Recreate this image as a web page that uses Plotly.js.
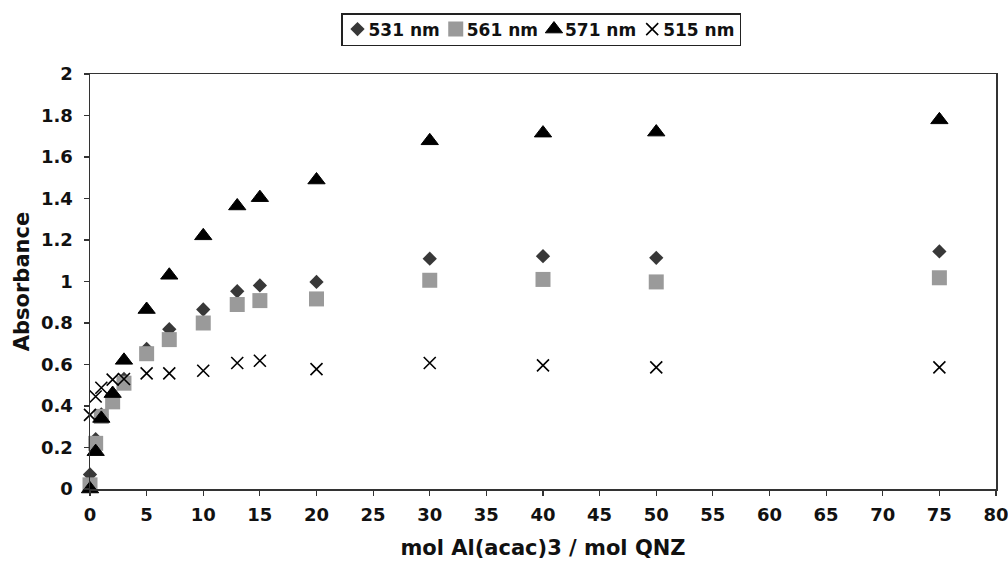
<!DOCTYPE html>
<html>
<head>
<meta charset="utf-8">
<script src="https://cdn.plot.ly/plotly-3.0.1.min.js"></script>
<style>
  html, body { margin: 0; padding: 0; background: #fff; }
  #chart { width: 1008px; height: 566px; }
</style>
</head>
<body>
<div id="chart"></div>
<script>
// Molar ratio of Al(acac)3 to QNZ
const ratio = [0, 0.5, 1, 2, 3, 5, 7, 10, 13, 15, 20, 30, 40, 50, 75];

// Absorbance at each monitored wavelength
const abs531 = [0.07, 0.24, 0.36, 0.44, 0.53, 0.675, 0.77, 0.865, 0.953, 0.981, 0.998, 1.11, 1.122, 1.114, 1.145];
const abs561 = [0.02, 0.22, 0.35, 0.42, 0.51, 0.652, 0.72, 0.80, 0.889, 0.908, 0.916, 1.006, 1.01, 0.998, 1.018];
const abs571 = [0.0, 0.18, 0.34, 0.46, 0.62, 0.865, 1.03, 1.22, 1.364, 1.404, 1.489, 1.678, 1.715, 1.72, 1.779];
const abs515 = [0.357, 0.446, 0.488, 0.527, 0.53, 0.557, 0.557, 0.57, 0.607, 0.618, 0.578, 0.607, 0.596, 0.586, 0.586];

const seriesNames = ['531 nm', '561 nm', '571 nm', '515 nm'];

const FONT = 'DejaVu Sans, Arial, sans-serif';

const traces = [
  {
    x: ratio, y: abs531, name: seriesNames[0], type: 'scatter', mode: 'markers',
    cliponaxis: false,
    marker: { symbol: 'diamond', size: 11, color: '#383838' }
  },
  {
    x: ratio, y: abs561, name: seriesNames[1], type: 'scatter', mode: 'markers',
    cliponaxis: false,
    marker: { symbol: 'square', size: 15, color: '#9a9a9a' }
  },
  {
    x: ratio, y: abs571, name: seriesNames[2], type: 'scatter', mode: 'markers',
    cliponaxis: false,
    marker: { symbol: 'triangle-up', size: 15, color: '#000000', line: { width: 1, color: '#000000' } }
  },
  {
    x: ratio, y: abs515, name: seriesNames[3], type: 'scatter', mode: 'markers',
    cliponaxis: false,
    marker: { symbol: 'x-thin-open', size: 12, color: '#000000', line: { width: 1.6, color: '#000000' } }
  }
];

const axisCommon = {
  showgrid: false,
  zeroline: false,
  showline: true,
  mirror: true,
  linecolor: '#333333',
  linewidth: 1.5,
  ticks: 'outside',
  ticklen: 5,
  tickwidth: 1.2,
  tickcolor: '#333333',
  ticklabeloverflow: 'allow',
  tickfont: { family: FONT, size: 18, weight: 'bold', color: '#111111' }
};

const layout = {
  width: 1008,
  height: 566,
  margin: { l: 90, r: 12, t: 74, b: 77 },
  paper_bgcolor: '#ffffff',
  plot_bgcolor: '#ffffff',
  showlegend: true,
  legend: {
    orientation: 'h',
    x: 0.5, xanchor: 'center',
    yref: 'container', y: 0.977, yanchor: 'top',
    bordercolor: '#222222',
    borderwidth: 1.5,
    bgcolor: '#ffffff',
    font: { family: FONT, size: 17, weight: 'bold', color: '#111111' },
    itemwidth: 30,
    tracegroupgap: 0
  },
  xaxis: Object.assign({}, axisCommon, {
    range: [0, 80],
    tick0: 0,
    dtick: 5,
    ticklabelstandoff: 4,
    title: { text: 'mol Al(acac)3 / mol QNZ', font: { family: FONT, size: 21, weight: 'bold', color: '#111111' }, standoff: 16 }
  }),
  yaxis: Object.assign({}, axisCommon, {
    range: [0, 2],
    tick0: 0,
    dtick: 0.2,
    ticklabelstandoff: 7,
    title: { text: 'Absorbance', font: { family: FONT, size: 21, weight: 'bold', color: '#111111' }, standoff: 5 }
  })
};

// Pull the legend entries closer together: symbol-to-text gap, entry pitch and
// left padding, then shrink the framed box to fit and keep it centred.
function tightenLegend(gd) {
  const legend = gd.querySelector('g.legend');
  if (!legend) return;
  const pull = 18, textPull = 9, heightTrim = 6, leftPull = 5;
  const parseT = el => {
    const m = /translate\(\s*([-\d.e]+)[ ,]*([-\d.e]*)\s*\)/.exec(el.getAttribute('transform') || '');
    return m ? [parseFloat(m[1]), parseFloat(m[2] || 0)] : [0, 0];
  };
  const items = legend.querySelectorAll('g.traces');
  items.forEach((g, i) => {
    const [tx, ty] = parseT(g);
    g.setAttribute('transform', 'translate(' + (tx - leftPull - pull * i) + ',' + (ty - heightTrim / 2) + ')');
    g.querySelectorAll('text.legendtext').forEach(t => {
      t.setAttribute('x', parseFloat(t.getAttribute('x') || 0) - textPull);
      t.querySelectorAll('tspan[x]').forEach(s => s.setAttribute('x', parseFloat(s.getAttribute('x')) - textPull));
    });
  });
  const shrink = pull * (items.length - 1) + textPull + leftPull;
  const bg = legend.querySelector('rect.bg');
  if (bg) {
    bg.setAttribute('width', parseFloat(bg.getAttribute('width')) - shrink);
    bg.setAttribute('height', parseFloat(bg.getAttribute('height')) - heightTrim);
  }
  const [lx, ly] = parseT(legend);
  legend.setAttribute('transform', 'translate(' + (lx + shrink / 2 - 2) + ',' + ly + ')');
}

Plotly.newPlot('chart', traces, layout, { displayModeBar: false, staticPlot: true })
  .then(gd => tightenLegend(gd));
</script>
</body>
</html>
